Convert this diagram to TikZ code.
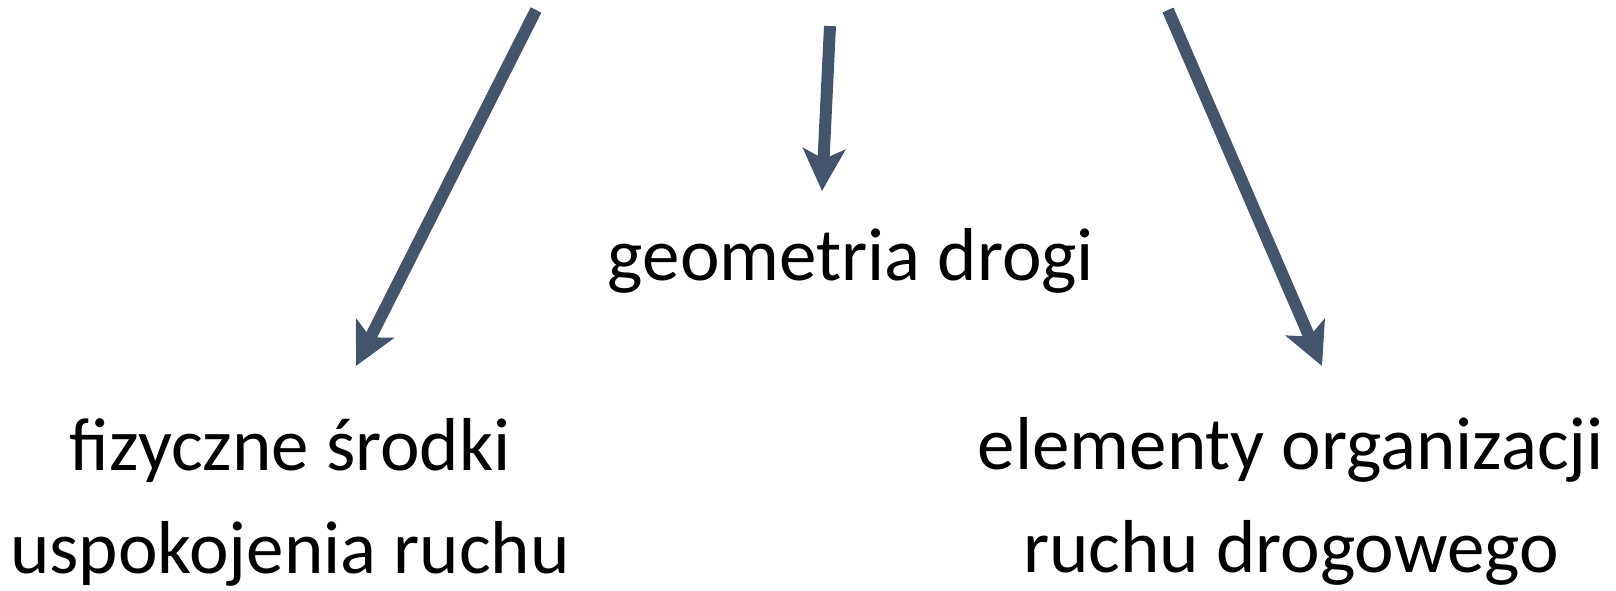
\documentclass[tikz,border=0pt]{standalone}
\usepackage{fontspec}
\setmainfont{Carlito}
\usepackage{xcolor}
\usepackage{tikz}
\usetikzlibrary{arrows.meta}
\definecolor{slateArrow}{HTML}{44546A}

\begin{document}
\begin{tikzpicture}[x=0.5pt, y=0.5pt,
	label text/.style={align=center, anchor=base, font=\fontsize{37.5}{51.5}\selectfont},
	big arrow/.style={draw=slateArrow, line width=6pt,
		-{Stealth[length=21pt, width=21pt, inset=5pt]}}]
	\useasboundingbox (0,0) rectangle (1616,590);
	\node[label text] (geo) at (851,310) {geometria drogi};
	\node[label text] (fiz) at (290,17) {fizyczne środki\\uspokojenia ruchu};
	\node[label text] (org) at (1291,18) {elementy organizacji\\ruchu drogowego};
	\coordinate (topL) at (536,580);
	\coordinate (tipL) at (356,224);
	\coordinate (topM) at (830,564);
	\coordinate (tipM) at (822,399);
	\coordinate (topR) at (1168,580);
	\coordinate (tipR) at (1322,224);
	\draw[big arrow] (topL) -- (tipL);
	\draw[big arrow] (topM) -- (tipM);
	\draw[big arrow] (topR) -- (tipR);
\end{tikzpicture}
\end{document}
